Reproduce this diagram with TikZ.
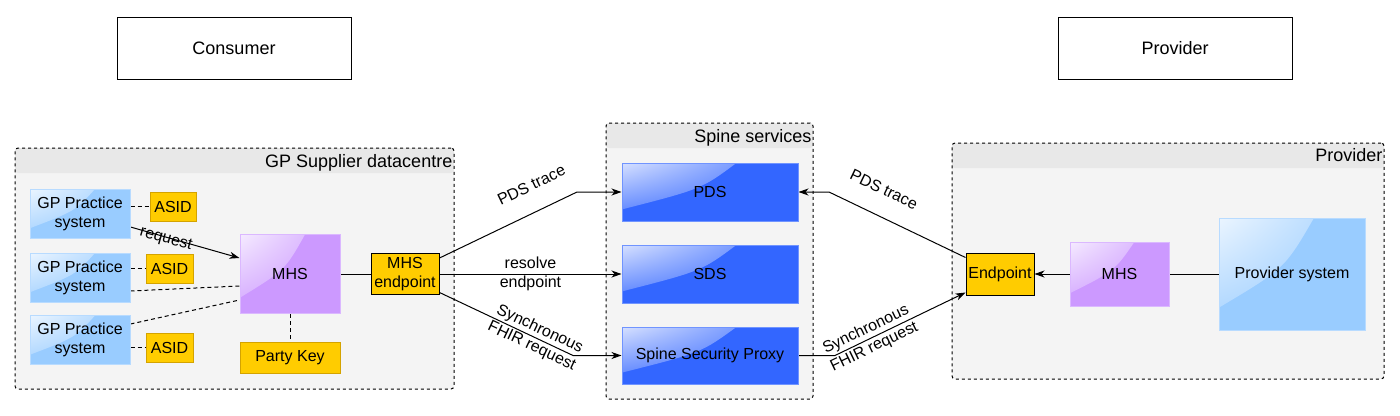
\documentclass[tikz,border=0pt]{standalone}
\usepackage{fontspec}
\setmainfont{Liberation Sans}
\usepackage{tikz}
\usetikzlibrary{shapes,calc,arrows.meta,shadings}
\definecolor{gpblue}{HTML}{99CCFF}
\definecolor{mhspurple}{HTML}{CC99FF}
\definecolor{keyyellow}{HTML}{FFCC00}
\definecolor{keyborder}{HTML}{D4A300}
\definecolor{spineblue}{HTML}{3366FF}
\definecolor{groupfill}{HTML}{F4F4F4}
\definecolor{grouphead}{HTML}{E8E8E8}
\tikzset{glass/.style={fill=#1,draw=#1!70!white,line width=1.000,
  path picture={\shade[upper left=#1!20!white,upper right=#1!88!white,lower left=#1!88!white,lower right=#1]
  (path picture bounding box.north west)
  -- ($(path picture bounding box.north west)!0.65!(path picture bounding box.north east)$)
  .. controls ($(path picture bounding box.north west)!0.45!(path picture bounding box.south east)$)
  .. ($(path picture bounding box.north west)!0.8!(path picture bounding box.south west)$) -- cycle;}}}
\tikzstyle{plain}=[rectangle,draw=black,fill=white,line width=1.000,minimum width=234,minimum height=62,font=\fontsize{18}{21}\selectfont]
\tikzstyle{group}=[rectangle,draw=black,dashed,fill=groupfill,rounded corners=3,line width=1.000,
  path picture={\fill[grouphead] (path picture bounding box.north west) rectangle ([yshift=-25pt]path picture bounding box.north east);}]
\tikzstyle{grouptitle}=[anchor=base east,inner sep=0,font=\fontsize{18}{21}\selectfont]
\tikzstyle{practice}=[rectangle,glass=gpblue,minimum width=100,minimum height=49,align=center]
\tikzstyle{mhs}=[rectangle,glass=mhspurple]
\tikzstyle{spine}=[rectangle,glass=spineblue,minimum width=176,minimum height=58]
\tikzstyle{asid}=[rectangle,fill=keyyellow,draw=keyborder,line width=1.000,minimum width=47,minimum height=29,inner sep=1]
\tikzstyle{endpoint}=[rectangle,fill=keyyellow,draw=black,line width=1.000,inner sep=1]
\tikzstyle{edgelabel}=[inner sep=1,align=center]
\tikzstyle{inarrow}=[->,>={Stealth[length=10pt,width=7pt,inset=3pt]},line width=1.000]
\tikzstyle{outarrow}=[<-,>={Stealth[length=10pt,width=7pt,inset=3pt]},line width=1.000]
\tikzstyle{solidline}=[-,line width=1.000]
\tikzstyle{dashline}=[-,dash pattern=on 4pt off 3pt,line width=1.000]
\pgfdeclarelayer{grouplayer}
\pgfdeclarelayer{edgelayer}
\pgfdeclarelayer{nodelayer}
\pgfsetlayers{grouplayer,edgelayer,nodelayer,main}
\begin{document}
\begin{tikzpicture}[x=1pt,y=-1pt,every node/.append style={font=\fontsize{16}{19}\selectfont}]
	\useasboundingbox (0,0) rectangle (1400,415);
	\begin{pgfonlayer}{grouplayer}
		\node [style=group, minimum width=439, minimum height=241] (gpdc) at (234.5, 268.5) {};
		\node [style=grouptitle] (gpdct) at ([xshift=-2pt,yshift=-20pt]gpdc.north east) {GP Supplier datacentre};
		\node [style=group, minimum width=207, minimum height=276] (spsv) at (709.5, 261) {};
		\node [style=grouptitle] (spsvt) at ([xshift=-2pt,yshift=-20pt]spsv.north east) {Spine services};
		\node [style=group, minimum width=432, minimum height=236] (prvg) at (1168, 261) {};
		\node [style=grouptitle] (prvgt) at ([xshift=-2pt,yshift=-19pt]prvg.north east) {Provider};
	\end{pgfonlayer}
	\begin{pgfonlayer}{nodelayer}
		\node [style=plain] (cons) at (234, 48) {Consumer};
		\node [style=plain] (prov) at (1175, 48) {Provider};
		\node [style=practice] (gp1) at (80, 213.5) {GP Practice\\system};
		\node [style=practice] (gp2) at (80, 277.5) {GP Practice\\system};
		\node [style=practice] (gp3) at (80, 340) {GP Practice\\system};
		\node [style=asid, minimum width=46] (as1) at (173, 206.5) {ASID};
		\node [style=asid] (as2) at (169.5, 268.5) {ASID};
		\node [style=asid] (as3) at (169.5, 347.5) {ASID};
		\node [style=mhs, minimum width=100, minimum height=79] (mhs1) at (290, 274) {MHS};
		\node [style=asid, minimum width=100, minimum height=31] (pkey) at (290, 357.5) {Party Key};
		\node [style=endpoint, minimum width=68, minimum height=41, align=center] (mep) at (405, 274) {MHS\\endpoint};
		\node [style=spine] (pds) at (710, 192) {PDS};
		\node [style=spine] (sds) at (710, 274) {SDS};
		\node [style=spine, minimum height=57] (ssp) at (710, 355.5) {Spine Security Proxy};
		\node [style=endpoint, minimum width=68, minimum height=42] (ep) at (1000, 274) {Endpoint};
		\node [style=mhs, minimum width=99, minimum height=64] (mhs2) at (1119.5, 274) {MHS};
		\node [style=practice, minimum width=146, minimum height=112] (psys) at (1292, 274) {Provider system};
	\end{pgfonlayer}
	\begin{pgfonlayer}{edgelayer}
		\coordinate (pdsin) at (577, 192);
		\coordinate (sspin) at (573, 355.5);
		\coordinate (pdsout) at (829, 192);
		\coordinate (sspout) at (835, 355.5);
		\draw [style=dashline] (gp1.east |- as1.west) to (as1.west);
		\draw [style=dashline] (gp2.east |- as2.west) to (as2.west);
		\draw [style=dashline] (gp3.east |- as3.west) to (as3.west);
		\draw [style=inarrow] ([yshift=-13.5pt]gp1.east) to node [style=edgelabel, sloped, pos=0.33, below=-6pt] {request} ([yshift=16pt]mhs1.west);
		\draw [style=dashline] ([yshift=-13.5pt]gp2.east) to ([yshift=-12pt]mhs1.west);
		\draw [style=dashline] ([yshift=16pt]gp3.east) to ([yshift=-26pt]mhs1.west);
		\draw [style=dashline] (mhs1) to (pkey);
		\draw [style=solidline] (mhs1) to (mep);
		\draw [style=inarrow] ([yshift=-5pt]mep.north east) -- node [style=edgelabel, sloped, pos=0.75, above=19pt] {PDS trace} (pdsin) -- (pds.west);
		\draw [style=inarrow] (mep) to node [style=edgelabel] {resolve\\endpoint} (sds);
		\draw [style=inarrow] ([yshift=2.5pt]mep.south east) -- node [style=edgelabel, sloped, pos=0.72] {Synchronous\\FHIR request} (sspin) -- (ssp.west);
		\draw [style=outarrow] (pds.east) -- (pdsout) -- node [style=edgelabel, sloped, pos=0.32, above=19pt] {PDS trace} ([yshift=-5pt]ep.north west);
		\draw [style=inarrow] (ssp.east) -- (sspout) -- node [style=edgelabel, sloped, pos=0.27] {Synchronous\\FHIR request} ([yshift=3pt]ep.south west);
		\draw [style=inarrow] (mhs2) to (ep);
		\draw [style=solidline] (mhs2) to (psys);
	\end{pgfonlayer}
\end{tikzpicture}
\end{document}
